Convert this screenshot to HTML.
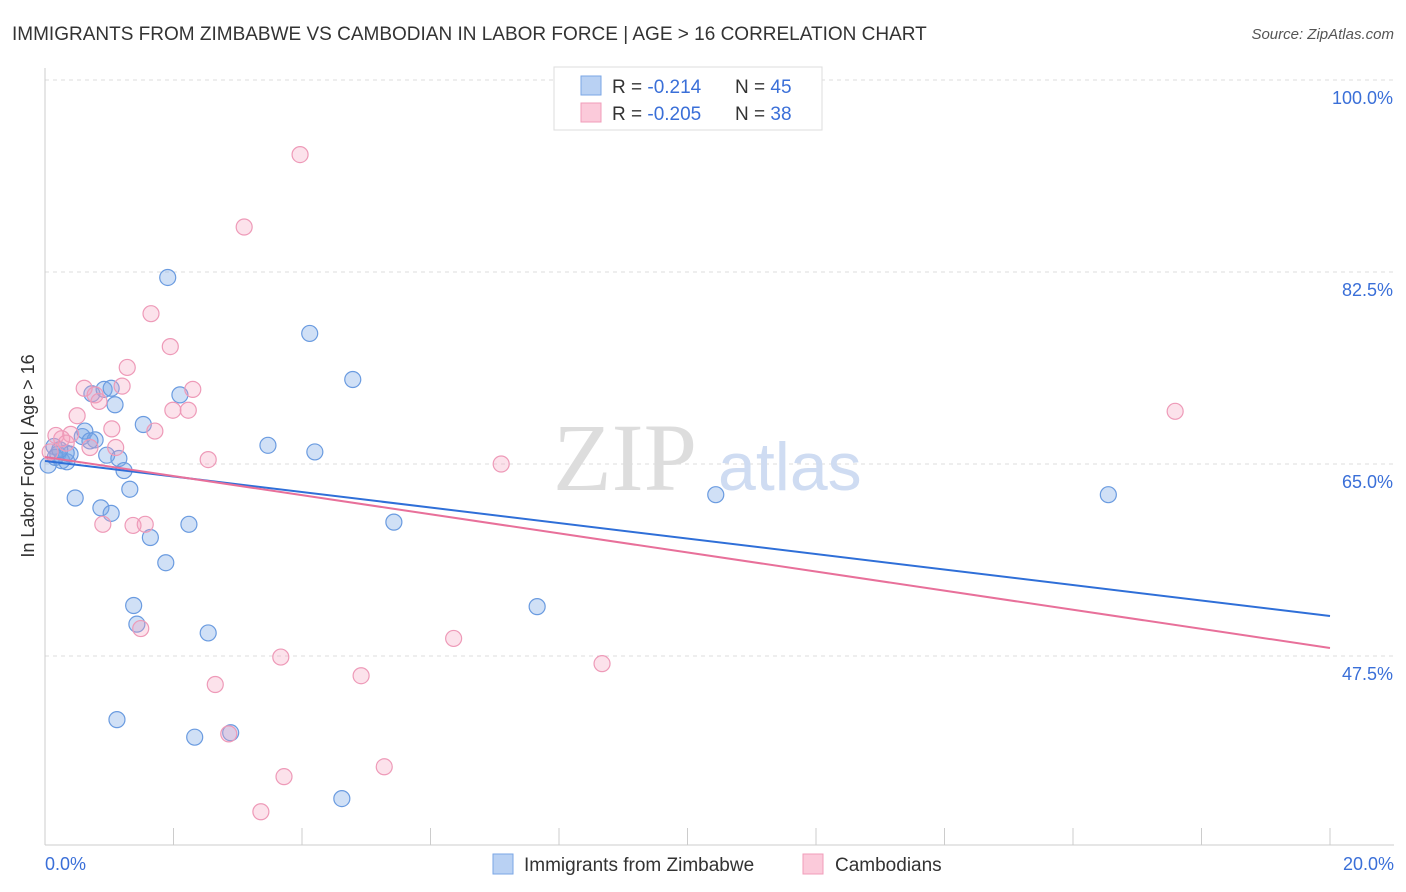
<!DOCTYPE html>
<html><head><meta charset="utf-8">
<style>
body{margin:0;background:#fff;font-family:"Liberation Sans",sans-serif;}
#wrap{position:relative;width:1406px;height:892px;overflow:hidden;}
</style></head>
<body>
<div id="wrap">
<svg id="svg" width="1406" height="892"></svg>
</div>
<script>
const blueX=[0.14,0.2,0.26,0.34,0.39,0.47,0.58,0.62,0.73,0.78,0.87,0.96,0.92,1.03,1.03,1.09,1.12,1.15,1.23,1.32,1.38,1.43,1.53,1.64,1.88,1.91,2.1,2.24,2.33,2.54,2.89,3.47,4.12,4.2,4.62,4.79,5.43,7.66,10.44,16.55,0.05,0.33,0.7,0.16,0.23];
const blueY=[66.6,65.9,65.3,65.2,65.9,61.9,67.5,68.0,71.4,67.2,61.0,65.8,71.8,60.5,71.9,70.4,41.7,65.5,64.4,62.7,52.1,50.4,68.6,58.3,56.0,82.0,71.3,59.5,40.1,49.6,40.5,66.7,76.9,66.1,34.5,72.7,59.7,52.0,62.2,62.2,64.9,66.0,67.1,65.6,66.3];
const pinkX=[3.97,3.1,1.65,1.95,1.28,1.2,0.61,0.78,2.3,1.99,2.23,0.5,1.71,1.04,1.1,0.7,0.4,0.26,0.17,2.54,7.1,0.9,1.37,1.56,1.49,6.36,3.67,8.67,4.92,2.65,2.86,3.72,5.28,3.36,17.59,0.33,0.08,0.84];
const pinkY=[93.2,86.6,78.7,75.7,73.8,72.1,71.9,71.3,71.8,69.9,69.9,69.4,68.0,68.2,66.5,66.5,67.7,67.3,67.6,65.4,65.0,59.5,59.4,59.5,50.0,49.1,47.4,46.8,45.7,44.9,40.4,36.5,37.4,33.3,69.8,66.9,66.1,70.7];
const trendBlue=[65.27,51.14];
const trendPink=[65.64,48.23];
const yTicks=[100,82.5,65,47.5];
const yTickLabels=["100.0%","82.5%","65.0%","47.5%"];
const xLabels=["0.0%","20.0%"];

const NS="http://www.w3.org/2000/svg";
const svg=document.getElementById('svg');
const X=v=>45+v/20*1285;
const Y=v=>80+(100-v)*10.971;
function el(tag,attrs,parent){const e=document.createElementNS(NS,tag);for(const k in attrs)e.setAttribute(k,attrs[k]);(parent||svg).appendChild(e);return e;}

// title
let t=el('text',{x:12,y:40,'font-size':19,fill:'#333'});t.textContent="IMMIGRANTS FROM ZIMBABWE VS CAMBODIAN IN LABOR FORCE | AGE > 16 CORRELATION CHART";

t=el('text',{x:1394,y:39,'font-size':15,fill:'#555','text-anchor':'end','font-style':'italic'});t.textContent="Source: ZipAtlas.com";


// gridlines + y ticks
yTicks.forEach((v,i)=>{
 const g=el('line',{x1:45,x2:1394,y1:Y(v),y2:Y(v),stroke:'#ddd','stroke-dasharray':'4,4'});
 
 const l=el('text',{x:1393,y:Y(v)+24,'font-size':18,fill:'#3a6fd8','text-anchor':'end'});l.textContent=yTickLabels[i];
 
});
// axes
let a=el('line',{x1:45,x2:45,y1:68,y2:845,stroke:'#ccc'});
a=el('line',{x1:45,x2:1394,y1:845,y2:845,stroke:'#ccc'});
for(let i=0;i<=10;i++){const tk=el('line',{x1:X(i*2),x2:X(i*2),y1:828,y2:845,stroke:'#ccc'});}
t=el('text',{x:45,y:870,'font-size':18,fill:'#3a6fd8'});t.textContent=xLabels[0];
t=el('text',{x:1394,y:870,'font-size':18,fill:'#3a6fd8','text-anchor':'end'});t.textContent=xLabels[1];
t=el('text',{x:34,y:456,'font-size':18,fill:'#333','text-anchor':'middle',transform:'rotate(-90 34 456)'});t.textContent="In Labor Force | Age > 16";


// watermark
t=el('text',{x:553,y:490,'font-size':96,fill:'#ddd','font-family':'Liberation Serif'});t.textContent="ZIP";
t=el('text',{x:718,y:490,'font-size':68,fill:'#cfdcf2'});t.textContent="atlas";

// points
blueX.forEach((v,i)=>{const c=el('circle',{cx:X(v),cy:Y(blueY[i]),r:8,fill:'rgba(120,165,230,0.35)',stroke:'#6a9be0','stroke-width':1.2});
});
pinkX.forEach((v,i)=>{const c=el('circle',{cx:X(v),cy:Y(pinkY[i]),r:8,fill:'rgba(245,160,190,0.3)',stroke:'#ee9ab8','stroke-width':1.2});
});
// trend lines
let ln=el('line',{x1:X(0),y1:Y(trendBlue[0]),x2:X(20),y2:Y(trendBlue[1]),stroke:'#2f6fd8','stroke-width':2});

ln=el('line',{x1:X(0),y1:Y(trendPink[0]),x2:X(20),y2:Y(trendPink[1]),stroke:'#e8709a','stroke-width':2});


// top legend
const lg=el('g',{});
el('rect',{x:554,y:67,width:268,height:63,fill:'#fff',stroke:'#ddd'},lg);
el('rect',{x:581,y:76,width:20,height:19,fill:'#b9d1f3',stroke:'#7aa6e6'},lg);
el('rect',{x:581,y:103,width:20,height:19,fill:'#fbcada',stroke:'#f09cba'},lg);
function row(y,r,n){const tx=el('text',{x:612,y:y,'font-size':19,fill:'#333'},lg);
 tx.innerHTML=`R = <tspan fill="#3a6fd8">${r}</tspan><tspan x="735">N = </tspan><tspan fill="#3a6fd8">${n}</tspan>`;}
row(93,' -0.214',45);row(120,'-0.205',38);

// bottom legend
const bl=el('g',{});
el('rect',{x:493,y:854,width:20,height:20,fill:'#b9d1f3',stroke:'#7aa6e6'},bl);
t=el('text',{x:524,y:871,'font-size':19,fill:'#333'},bl);t.textContent="Immigrants from Zimbabwe";
el('rect',{x:803,y:854,width:20,height:20,fill:'#fbcada',stroke:'#f09cba'},bl);
t=el('text',{x:835,y:871,'font-size':19,fill:'#333'},bl);t.textContent="Cambodians";
</script>
</body></html>
